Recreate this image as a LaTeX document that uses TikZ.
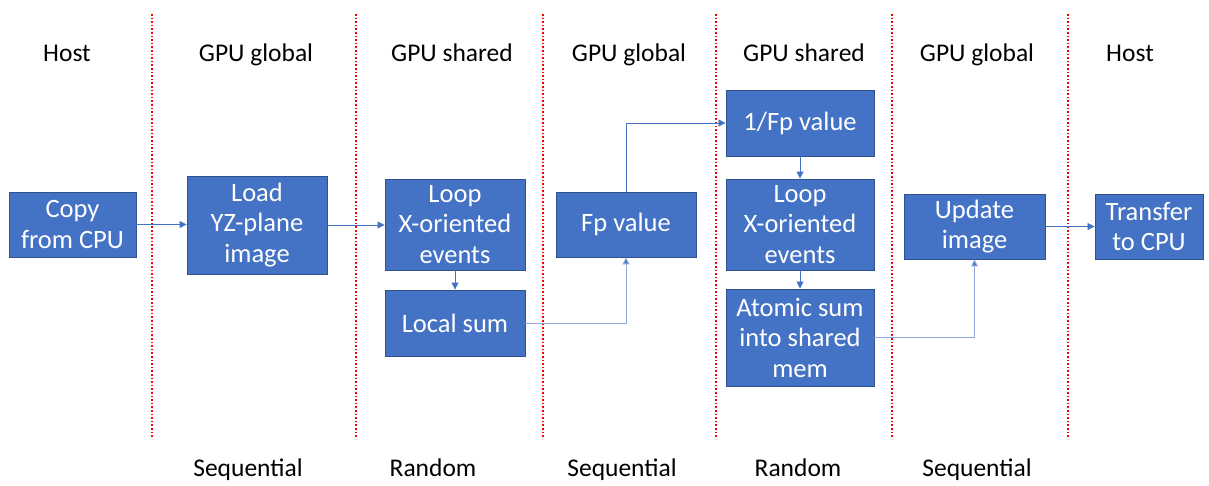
\documentclass[tikz,border=0pt]{standalone}
\usepackage{fontspec}
\setmainfont{Carlito}
\usetikzlibrary{arrows.meta}
\definecolor{boxfill}{HTML}{4472C4}
\definecolor{boxline}{HTML}{2F528F}
\definecolor{arrowc}{HTML}{4472C4}
\definecolor{arrowlight}{HTML}{8FAADC}
\definecolor{sepred}{HTML}{FF0000}
\begin{document}
\begin{tikzpicture}[x=1pt,y=-1pt,
  box/.style={draw=boxline, fill=boxfill, text=white, line width=0.9pt, align=center,
    inner sep=0pt, font=\fontsize{26.5}{30.5}\selectfont},
  head/.style={font=\fontsize{25.5}{30}\selectfont, text=black, anchor=base},
  conn/.style={draw=arrowc, line width=0.8pt, -{Triangle[length=7pt,width=7pt]}},
  connl/.style={draw=arrowlight, line width=1pt, -{Triangle[length=7pt,width=7pt,fill=arrowc]}},
  sepline/.style={draw=sepred, line width=1.6pt, dotted}]
\useasboundingbox (0,0) rectangle (1209,485);
% separators
\foreach \x in {152,356,543,716,892,1068}
  \draw[sepline] (\x,14) -- (\x,438);
% headers
\node[head] (h1) at (67,61) {Host};
\node[head] (h2) at (256,61) {GPU global};
\node[head] (h3) at (452,61) {GPU shared};
\node[head] (h4) at (629,61) {GPU global};
\node[head] (h5) at (804,61) {GPU shared};
\node[head] (h6) at (977,61) {GPU global};
\node[head] (h7) at (1130,61) {Host};
% footers
\node[head] (f2) at (248,476) {Sequential};
\node[head] (f3) at (433,476) {Random};
\node[head] (f4) at (622,476) {Sequential};
\node[head] (f5) at (798,476) {Random};
\node[head] (f6) at (977,476) {Sequential};
% boxes
\node[box, minimum width=127pt, minimum height=65pt] (copy) at (72.5,224.5) {Copy\\from CPU};
\node[box, minimum width=140pt, minimum height=98pt] (load) at (257,225) {Load\\YZ-plane\\image};
\node[box, minimum width=140pt, minimum height=91pt] (loop1) at (455,224.5) {Loop\\X-oriented\\events};
\node[box, minimum width=140pt, minimum height=66pt] (local) at (455,323) {Local sum};
\node[box, minimum width=140pt, minimum height=65pt] (fp) at (626,224.5) {Fp value};
\node[box, minimum width=148pt, minimum height=66pt] (inv) at (800,123) {1/Fp value};
\node[box, minimum width=148pt, minimum height=91pt] (loop2) at (800,224.5) {Loop\\X-oriented\\events};
\node[box, minimum width=148pt, minimum height=97pt] (atomic) at (800,337.5) {Atomic sum\\into shared\\mem};
\node[box, minimum width=141pt, minimum height=65pt] (update) at (974.5,226.5) {Update\\image};
\node[box, minimum width=108pt, minimum height=65pt] (transfer) at (1149,226.5) {Transfer\\to CPU};
% connectors
\draw[conn] (copy.east) -- (load.west |- copy.east);
\draw[conn] (load.east) -- (loop1.west |- load.east);
\draw[conn] (loop1.south) -- (local.north);
\draw[connl] (local.east) -| (fp.south);
\draw[conn] (fp.north) |- (inv.west);
\draw[conn] (inv.south) -- (loop2.north);
\draw[conn] (loop2.south) -- (atomic.north);
\draw[connl] (atomic.east) -| (update.south);
\draw[conn] (update.east) -- (transfer.west);
\end{tikzpicture}
\end{document}
